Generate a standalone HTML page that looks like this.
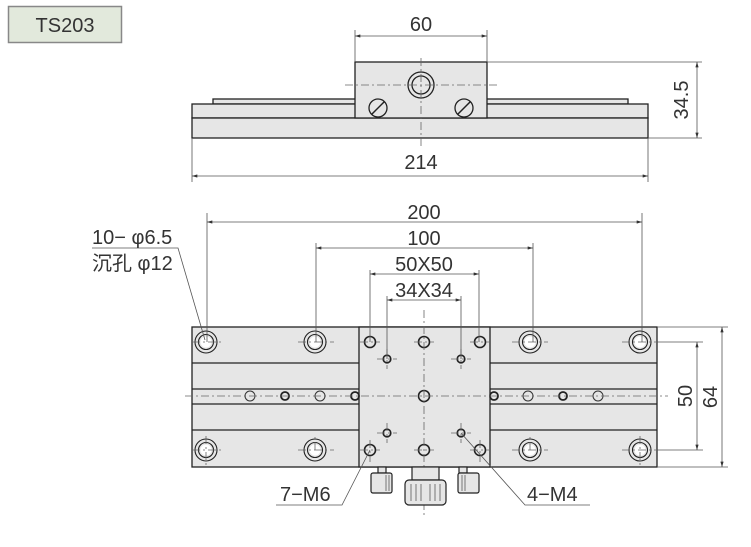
<!DOCTYPE html>
<html><head><meta charset="utf-8"><style>
html,body{margin:0;padding:0;background:#fff;width:751px;height:547px;overflow:hidden}
svg{display:block}
text{font-family:"Liberation Sans","Noto Sans CJK SC",sans-serif;fill:#333}
</style></head><body>
<svg width="751" height="547" viewBox="0 0 751 547" xmlns="http://www.w3.org/2000/svg">
<defs>
<marker id="a" viewBox="0 0 10 6" refX="10" refY="3" markerWidth="8" markerHeight="4" orient="auto-start-reverse"><path d="M0,0L10,3L0,6z" fill="#333"/></marker>
</defs>
<rect x="8.5" y="6.5" width="113" height="36" fill="#e2e9dc" stroke="#888" stroke-width="1.5"/>
<text x="65" y="32" font-size="20" text-anchor="middle" fill="#222">TS203</text>

<g stroke="#222" stroke-width="1.3" fill="#e6e6e6">
<rect x="213" y="99" width="415" height="5"/>
<rect x="192" y="104" width="456" height="14"/>
<rect x="192" y="118" width="456" height="20"/>
<rect x="355" y="62" width="132" height="56"/>
<circle cx="421" cy="85" r="13"/>
<circle cx="421" cy="85" r="9"/>
<circle cx="378" cy="108" r="9"/>
<circle cx="464" cy="108" r="9"/>
</g>
<g stroke="#222" stroke-width="1.5"><line x1="372" y1="114" x2="384" y2="102"/><line x1="458" y1="114" x2="470" y2="102"/></g>
<g stroke="#666" stroke-width="0.8" stroke-dasharray="8,3,2,3" fill="none">
<line x1="421" y1="58" x2="421" y2="146"/><line x1="345" y1="85" x2="497" y2="85"/>
</g>
<g stroke="#555" stroke-width="0.8" fill="none">
<line x1="355" y1="30" x2="355" y2="62"/><line x1="487" y1="30" x2="487" y2="62"/>
<line x1="355" y1="36" x2="487" y2="36" marker-start="url(#a)" marker-end="url(#a)"/>
<line x1="192" y1="138" x2="192" y2="182"/><line x1="648" y1="138" x2="648" y2="182"/>
<line x1="192" y1="176" x2="648" y2="176" marker-start="url(#a)" marker-end="url(#a)"/>
<line x1="487" y1="62" x2="702" y2="62"/><line x1="648" y1="138" x2="702" y2="138"/>
<line x1="697" y1="62" x2="697" y2="138" marker-start="url(#a)" marker-end="url(#a)"/>
</g>
<text x="421" y="31" font-size="20" text-anchor="middle">60</text>
<text x="421" y="169" font-size="20" text-anchor="middle">214</text>
<text x="0" y="0" font-size="20" text-anchor="middle" transform="translate(688,100) rotate(-90)">34.5</text>

<g stroke="#222" stroke-width="1.3" fill="#e6e6e6">
<rect x="192" y="327" width="465" height="140"/>
<line x1="192" y1="363" x2="359" y2="363"/><line x1="192" y1="389" x2="359" y2="389"/>
<line x1="192" y1="404" x2="359" y2="404"/><line x1="192" y1="430" x2="359" y2="430"/>
<line x1="490" y1="363" x2="657" y2="363"/><line x1="490" y1="389" x2="657" y2="389"/>
<line x1="490" y1="404" x2="657" y2="404"/><line x1="490" y1="430" x2="657" y2="430"/>
<rect x="359" y="327" width="131" height="140"/>
</g>
<g stroke="#222" stroke-width="1.1" fill="#e6e6e6">
<g id="cb"><circle cx="206" cy="342" r="11"/><circle cx="206" cy="342" r="7.5"/></g>
<use href="#cb" x="109"/><use href="#cb" x="324"/><use href="#cb" x="434"/>
<use href="#cb" y="108"/><use href="#cb" x="109" y="108"/><use href="#cb" x="324" y="108"/><use href="#cb" x="434" y="108"/>
</g>
<g fill="#fff" stroke="none">
<circle cx="206" cy="342" r="5.5"/><circle cx="315" cy="342" r="5.5"/><circle cx="530" cy="342" r="5.5"/><circle cx="640" cy="342" r="5.5"/>
<circle cx="206" cy="450" r="5.5"/><circle cx="315" cy="450" r="5.5"/><circle cx="530" cy="450" r="5.5"/><circle cx="640" cy="450" r="5.5"/>
</g>
<g stroke="#222" stroke-width="1.6" fill="#e6e6e6">
<circle cx="370" cy="342" r="5.5"/><circle cx="480" cy="342" r="5.5"/><circle cx="370" cy="450" r="5.5"/><circle cx="480" cy="450" r="5.5"/>
<circle cx="424" cy="342" r="5.5"/><circle cx="424" cy="396" r="5.5"/><circle cx="424" cy="450" r="5.5"/>
<circle cx="387" cy="359" r="3.8"/><circle cx="461" cy="359" r="3.8"/><circle cx="387" cy="433" r="3.8"/><circle cx="461" cy="433" r="3.8"/>
</g>
<g stroke="#333" stroke-width="1" fill="#e6e6e6">
<circle cx="250" cy="396" r="5"/><circle cx="320" cy="396" r="5"/><circle cx="528" cy="396" r="5"/><circle cx="598" cy="396" r="5"/>
</g>
<g stroke="#222" stroke-width="1.8" fill="#e6e6e6">
<circle cx="285" cy="396" r="4"/><circle cx="355" cy="396" r="4"/><circle cx="494" cy="396" r="4"/><circle cx="563" cy="396" r="4"/>
</g>
<g stroke="#666" stroke-width="0.8" stroke-dasharray="8,3,2,3" fill="none">
<line x1="185" y1="396" x2="668" y2="396"/><line x1="424" y1="310" x2="424" y2="515"/>
<line x1="192" y1="342" x2="222" y2="342"/><line x1="298" y1="342" x2="334" y2="342"/><line x1="512" y1="342" x2="548" y2="342"/><line x1="622" y1="342" x2="656" y2="342"/>
<line x1="192" y1="450" x2="222" y2="450"/><line x1="298" y1="450" x2="334" y2="450"/><line x1="512" y1="450" x2="548" y2="450"/><line x1="622" y1="450" x2="656" y2="450"/>
<line x1="315" y1="450" x2="315" y2="436"/><line x1="530" y1="450" x2="530" y2="436"/><line x1="206" y1="436" x2="206" y2="465"/><line x1="640" y1="436" x2="640" y2="465"/>
<line x1="360" y1="342" x2="380" y2="342"/><line x1="470" y1="342" x2="490" y2="342"/><line x1="360" y1="450" x2="380" y2="450"/><line x1="470" y1="450" x2="490" y2="450"/>
<line x1="377" y1="359" x2="397" y2="359"/><line x1="451" y1="359" x2="471" y2="359"/><line x1="377" y1="433" x2="397" y2="433"/><line x1="451" y1="433" x2="471" y2="433"/>
<line x1="387" y1="349" x2="387" y2="369"/><line x1="461" y1="349" x2="461" y2="369"/><line x1="387" y1="423" x2="387" y2="443"/><line x1="461" y1="423" x2="461" y2="443"/>
<line x1="370" y1="440" x2="370" y2="462"/><line x1="480" y1="440" x2="480" y2="462"/>
<line x1="414" y1="342" x2="434" y2="342"/><line x1="414" y1="450" x2="434" y2="450"/>
</g>
<g stroke="#555" stroke-width="0.8" fill="none">
<line x1="207" y1="213" x2="207" y2="342"/><line x1="642" y1="213" x2="642" y2="342"/>
<line x1="207" y1="222" x2="642" y2="222" marker-start="url(#a)" marker-end="url(#a)"/>
<line x1="316" y1="243" x2="316" y2="342"/><line x1="533" y1="243" x2="533" y2="342"/>
<line x1="316" y1="248" x2="533" y2="248" marker-start="url(#a)" marker-end="url(#a)"/>
<line x1="370" y1="270" x2="370" y2="342"/><line x1="479" y1="270" x2="479" y2="342"/>
<line x1="370" y1="274" x2="479" y2="274" marker-start="url(#a)" marker-end="url(#a)"/>
<line x1="387" y1="296" x2="387" y2="359"/><line x1="461" y1="296" x2="461" y2="359"/>
<line x1="387" y1="300" x2="461" y2="300" marker-start="url(#a)" marker-end="url(#a)"/>
<line x1="657" y1="342" x2="703" y2="342"/><line x1="657" y1="450" x2="703" y2="450"/>
<line x1="697" y1="342" x2="697" y2="450" marker-start="url(#a)" marker-end="url(#a)"/>
<line x1="657" y1="327" x2="728" y2="327"/><line x1="657" y1="467" x2="728" y2="467"/>
<line x1="722" y1="327" x2="722" y2="467" marker-start="url(#a)" marker-end="url(#a)"/>
<polyline points="92,248 178,248 205,340"/>
<polyline points="276,505 342,505 370,450"/>
<polyline points="590,505 525,505 461,433"/>
</g>
<text x="424" y="219" font-size="20" text-anchor="middle">200</text>
<text x="424" y="245" font-size="20" text-anchor="middle">100</text>
<text x="424" y="271" font-size="20" text-anchor="middle">50X50</text>
<text x="424" y="297" font-size="20" text-anchor="middle">34X34</text>
<text x="0" y="0" font-size="20" text-anchor="middle" transform="translate(692,396) rotate(-90)">50</text>
<text x="0" y="0" font-size="20" text-anchor="middle" transform="translate(717,397) rotate(-90)">64</text>
<text x="92" y="244" font-size="20">10− φ6.5</text>
<text x="92" y="270" font-size="20">沉孔 φ12</text>
<text x="280" y="501" font-size="20">7−M6</text>
<text x="527" y="501" font-size="20">4−M4</text>
<g stroke="#222" stroke-width="1.2" fill="#e6e6e6">
<rect x="378" y="467" width="8" height="6"/><rect x="371" y="473" width="21" height="20" rx="2"/>
<rect x="459" y="467" width="8" height="6"/><rect x="458" y="473" width="21" height="20" rx="2"/>
<rect x="412" y="467" width="27" height="13"/>
<rect x="405" y="480" width="41" height="25" rx="4"/>
</g>
<g stroke="#777" stroke-width="1">
<line x1="386" y1="475" x2="386" y2="491"/><line x1="389" y1="475" x2="389" y2="491"/>
<line x1="462" y1="475" x2="462" y2="491"/><line x1="465" y1="475" x2="465" y2="491"/>
<line x1="411" y1="484" x2="411" y2="501"/><line x1="416" y1="484" x2="416" y2="501"/><line x1="421" y1="484" x2="421" y2="501"/><line x1="430" y1="484" x2="430" y2="501"/><line x1="435" y1="484" x2="435" y2="501"/><line x1="440" y1="484" x2="440" y2="501"/>
</g>
</svg>
</body></html>
